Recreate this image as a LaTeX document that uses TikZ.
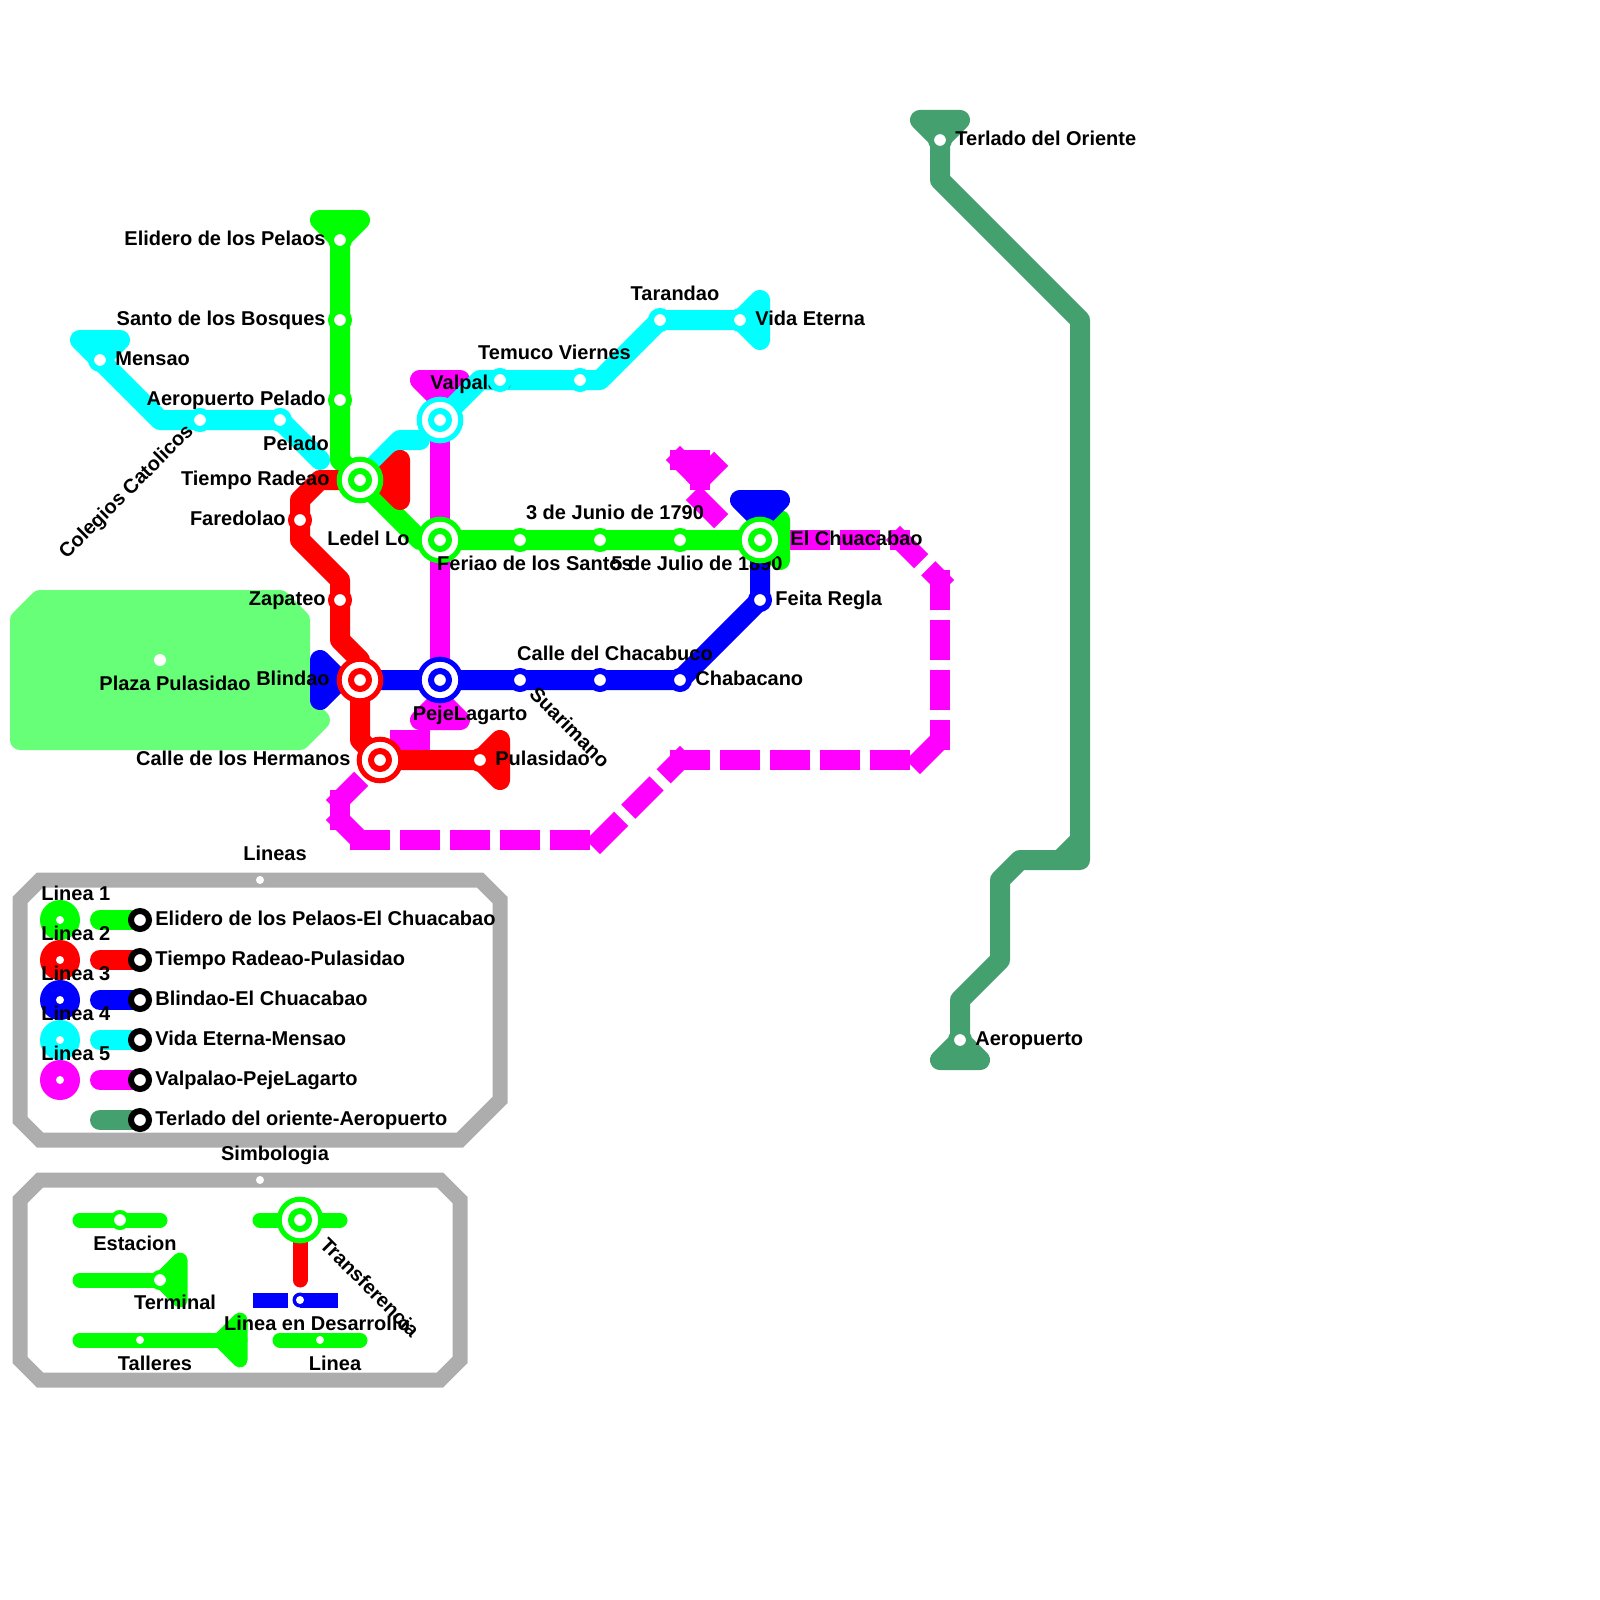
\documentclass[tikz,border=0pt]{standalone}
\usepackage{fontspec}
\setmainfont{Liberation Sans}
\usetikzlibrary{positioning,calc}
\definecolor{LineGreen}{RGB}{0,255,0}
\definecolor{LineRed}{RGB}{255,0,0}
\definecolor{LineBlue}{RGB}{0,0,255}
\definecolor{LineCyan}{RGB}{0,255,255}
\definecolor{LineMagenta}{RGB}{255,0,255}
\definecolor{LineTerlado}{RGB}{69,160,112}
\definecolor{PlazaGreen}{RGB}{102,255,119}
\definecolor{FrameGray}{RGB}{173,173,173}

\begin{document}
\begin{tikzpicture}[
      x=0.5pt, y=-0.5pt,
      lbl/.style={font=\bfseries, inner sep=0pt, text height=7.2pt, text depth=0pt, yshift=1pt},
      metro/.style={draw=#1, line width=10pt, line cap=round, line join=round},
      term/.style={metro=#1, fill=#1},
      small/.style={draw=#1, line width=7.5pt, line cap=round, line join=round},
      smallterm/.style={small=#1, fill=#1},
      dev/.style={draw=LineMagenta, line width=10pt, dash pattern=on 20pt off 5pt},
      frame/.style={draw=FrameGray, line width=7.5pt},
      stn/.style={circle, draw=#1, fill=white, line width=3pt, minimum size=9pt, inner sep=0pt, outer sep=0pt},
      stnleg/.style={circle, draw=#1, fill=white, line width=2pt, minimum size=8pt, inner sep=0pt, outer sep=0pt},
      xout/.style={circle, draw=#1, fill=white, line width=2.5pt, minimum size=20.8pt, inner sep=0pt, outer sep=0pt},
      dotw/.style={circle, fill=white, minimum size=4pt, inner sep=0pt, outer sep=0pt}
  ]
    \useasboundingbox (0,0) rectangle (1600,1600);

    % points of the lines
    \coordinate (eli) at (340,240);
    \coordinate (santo) at (340,320);
    \coordinate (aero) at (340,400);
    \coordinate (tiempo) at (360,480);
    \coordinate (ledel) at (440,540);
    \coordinate (feriao) at (520,540);
    \coordinate (junio) at (600,540);
    \coordinate (julio) at (680,540);
    \coordinate (chua) at (760,540);
    \coordinate (fare) at (300,520);
    \coordinate (zapa) at (340,600);
    \coordinate (blin) at (360,680);
    \coordinate (herm) at (380,760);
    \coordinate (pula) at (480,760);
    \coordinate (peje) at (440,680);
    \coordinate (chaca) at (520,680);
    \coordinate (suar) at (600,680);
    \coordinate (chab) at (680,680);
    \coordinate (feita) at (760,600);
    \coordinate (mens) at (100,360);
    \coordinate (cole) at (200,420);
    \coordinate (pela) at (280,420);
    \coordinate (pelb) at (320,460);
    \coordinate (valp) at (440,420);
    \coordinate (temb) at (500,380);
    \coordinate (temu) at (580,380);
    \coordinate (tara) at (660,320);
    \coordinate (vida) at (740,320);
    \coordinate (terl) at (940,140);
    \coordinate (apto) at (960,1040);
    \coordinate (plaza) at (160,660);
    % points of the line in development
    \coordinate (d1) at (340,800);
    \coordinate (d2) at (340,820);
    \coordinate (d3) at (360,840);
    \coordinate (d3a) at (580,840);
    \coordinate (d4) at (600,840);
    \coordinate (d5) at (680,760);
    \coordinate (d5a) at (900,760);
    \coordinate (d6) at (920,760);
    \coordinate (d7) at (940,740);
    \coordinate (d8) at (940,580);
    \coordinate (d9) at (900,540);
    \coordinate (d10) at (750,540);
    \coordinate (t1) at (680,460);
    \coordinate (t2) at (700,460);
    \coordinate (t3) at (700,480);
    \coordinate (t4) at (720,460);
    \coordinate (t5) at (700,500);
    \coordinate (t6) at (720,520);
    \coordinate (b1) at (400,740);
    \coordinate (b2) at (420,740);
    \coordinate (b3) at (420,760);

    % plaza
    \draw[term=PlazaGreen] (40,600) -- (280,600) -- (300,620) -- (300,700) -- (320,720) -- (300,740) -- (20,740) -- (20,620) -- cycle;

    % frames
    \draw[frame] (40,880) -- (480,880) -- (500,900) -- (500,1100) -- (460,1140) -- (40,1140) -- (20,1120) -- (20,900) -- cycle;
    \draw[frame] (40,1180) -- (440,1180) -- (460,1200) -- (460,1360) -- (440,1380) -- (40,1380) -- (20,1360) -- (20,1200) -- cycle;

    % line 5 and its development part
    \foreach \a/\b in {d1/herm, d1/d2, d2/d3, d3/d3a, d4/d5, d5/d5a, d6/d7, d8/d7, d9/d8, d10/d9, t1/t2, t2/t3, t1/t3, t3/t4, t5/t6, b1/b2, b2/b3}
      \draw[dev] ($(\a)!-5pt!(\b)$) -- ($(\b)!-5pt!(\a)$);
    \draw[term=LineMagenta] (420,380) -- (460,380) -- (440,400) -- cycle;
    \draw[term=LineMagenta] (420,720) -- (460,720) -- (440,700) -- cycle;
    \draw[metro=LineMagenta] (valp) -- (peje);

    % line 4
    \draw[term=LineCyan] (80,340) -- (120,340) -- (100,360) -- cycle;
    \draw[term=LineCyan] (760,300) -- (760,340) -- (740,320) -- cycle;
    \draw[metro=LineCyan] (mens) -- (160,420) -- (pela) -- (pelb);
    \draw[metro=LineCyan] (tiempo) -- (400,440) -- (420,440);
    \draw[metro=LineCyan] (valp) -- (480,380) -- (600,380) -- (tara) -- (vida);

    % line 1
    \draw[term=LineGreen] (320,220) -- (360,220) -- (340,240) -- cycle;
    \draw[term=LineGreen] (780,520) -- (780,560) -- (760,540) -- cycle;
    \draw[metro=LineGreen] (eli) -- (340,460) -- (tiempo) -- (420,540) -- (chua);

    % line 3
    \draw[term=LineBlue] (320,660) -- (320,700) -- (340,680) -- cycle;
    \draw[term=LineBlue] (740,500) -- (780,500) -- (760,520) -- cycle;
    \draw[metro=LineBlue] (blin) -- (chab) -- (feita) -- (chua);

    % line 2
    \draw[term=LineRed] (400,460) -- (400,500) -- (380,480) -- cycle;
    \draw[term=LineRed] (500,740) -- (500,780) -- (480,760) -- cycle;
    \draw[metro=LineRed] (tiempo) -- (320,480) -- (300,500) -- (300,540) -- (340,580) -- (340,640) -- (360,660) -- (360,740) -- (herm) -- (pula);

    % Terlado line
    \draw[term=LineTerlado] (920,120) -- (960,120) -- (940,140) -- cycle;
    \draw[term=LineTerlado] (940,1060) -- (980,1060) -- (960,1040) -- cycle;
    \draw[metro=LineTerlado] (terl) -- (940,180) -- (1080,320) -- (1080,860) -- (1020,860) -- (1000,880) -- (1000,960) -- (960,1000) -- (apto);
    \draw[metro=LineTerlado] (1080,840) -- (1060,860);

    % labels of the map
    \node[lbl, left=7pt of eli] (eli-l) {Elidero de los Pelaos};
    \node[lbl, left=7pt of santo] (santo-l) {Santo de los Bosques};
    \node[lbl, left=7pt of aero] (aero-l) {Aeropuerto Pelado};
    \node[lbl, left=15pt of tiempo] (tiempo-l) {Tiempo Radeao};
    \node[lbl, left=15pt of ledel] (ledel-l) {Ledel Lo};
    \node[lbl, left=7pt of fare] (fare-l) {Faredolao};
    \node[lbl, left=7pt of zapa] (zapa-l) {Zapateo};
    \node[lbl, left=15pt of blin] (blin-l) {Blindao};
    \node[lbl, left=14.5pt of herm] (herm-l) {Calle de los Hermanos};
    \node[lbl, right=7.5pt of pula] (pula-l) {Pulasidao};
    \node[lbl, right=7.5pt of mens] (mens-l) {Mensao};
    \node[lbl, right=7.5pt of vida] (vida-l) {Vida Eterna};
    \node[lbl, right=7.5pt of chab] (chab-l) {Chabacano};
    \node[lbl, right=7.5pt of feita] (feita-l) {Feita Regla};
    \node[lbl, right=15pt of chua] (chua-l) {El Chuacabao};
    \node[lbl, right=7.5pt of terl] (terl-l) {Terlado del Oriente};
    \node[lbl, right=7.5pt of apto] (apto-l) {Aeropuerto};
    \node[lbl] (pelado-l) at (296,445) {Pelado};
    \node[lbl, rotate=45] (cole-l) at (125.5,493) {Colegios Catolicos};
    \node[lbl] (tara-l) at (675,295) {Tarandao};
    \node[lbl] (temu-l) at (554.5,354) {Temuco Viernes};
    \node[lbl, anchor=west] (valp-l) at (430,384) {Valpalao};
    \node[lbl] (junio-l) at (615,514) {3 de Junio de 1790};
    \node[lbl] (julio-l) at (697,565) {5 de Julio de 1890};
    \node[lbl] (chaca-l) at (615,655) {Calle del Chacabuco};
    \node[lbl] (peje-l) at (470,715) {PejeLagarto};
    \node[lbl, rotate=-45] (suar-l) at (570,729) {Suarimano};
    \node[lbl] (plaza-l) at (175,685) {Plaza Pulasidao};

    % stations
    \foreach \s/\c in {eli/LineGreen, santo/LineGreen, aero/LineGreen, feriao/LineGreen, junio/LineGreen, julio/LineGreen, fare/LineRed, zapa/LineRed, chaca/LineBlue, suar/LineBlue, chab/LineBlue, feita/LineBlue, pula/LineRed, mens/LineCyan, cole/LineCyan, pela/LineCyan, temb/LineCyan, temu/LineCyan, tara/LineCyan, vida/LineCyan, terl/LineTerlado, apto/LineTerlado}
      \node[stn=\c] (\s-st) at (\s) {};
    \foreach \s/\c in {tiempo/LineGreen, ledel/LineGreen, chua/LineGreen, valp/LineCyan, blin/LineRed, herm/LineRed, peje/LineBlue} {
      \node[xout=\c] (\s-xo) at (\s) {};
      \node[stn=\c] (\s-st) at (\s) {};
    }
    \node[dotw, minimum size=6pt] (plaza-st) at (plaza) {};
    \node[lbl] (feriao-l) at (535,565) {Feriao de los Santos};

    % legend of the lines
    \node[dotw] (lineas) at (260,880) {};
    \node[lbl] (lineas-l) at (275,855) {Lineas};
    \foreach \yy/\i/\c/\t in {920/1/LineGreen/Elidero de los Pelaos-El Chuacabao, 960/2/LineRed/Tiempo Radeao-Pulasidao, 1000/3/LineBlue/Blindao-El Chuacabao, 1040/4/LineCyan/Vida Eterna-Mensao, 1080/5/LineMagenta/Valpalao-PejeLagarto, 1120/6/LineTerlado/Terlado del oriente-Aeropuerto} {
      \coordinate (bar\i a) at (100,\yy);
      \coordinate (bar\i b) at (140,\yy);
      \draw[metro=\c] (bar\i a) -- (bar\i b);
      \node[stn=black] (bar\i st) at (bar\i b) {};
      \node[lbl, right=7.5pt of bar\i b] (bar\i l) {\t};
    }
    \foreach \yy/\i/\c in {920/1/LineGreen, 960/2/LineRed, 1000/3/LineBlue, 1040/4/LineCyan, 1080/5/LineMagenta} {
      \node[circle, fill=\c, minimum size=20pt, inner sep=0pt, outer sep=0pt] (leg\i) at (60,\yy) {};
      \node[dotw] (leg\i d) at (leg\i) {};
    }
    \foreach \yy/\i in {895/1, 935/2, 975/3, 1015/4, 1055/5}
      \node[lbl, anchor=west] (leg\i l) at (41,\yy) {Linea \i};

    % legend of the symbols
    \node[dotw] (simbo) at (260,1180) {};
    \node[lbl] (simbo-l) at (275,1155) {Simbologia};
    \coordinate (esta) at (80,1220);
    \coordinate (estb) at (160,1220);
    \coordinate (estc) at (120,1220);
    \draw[small=LineGreen] (esta) -- (estb);
    \node[stnleg=LineGreen] (estc-st) at (estc) {};
    \node[lbl] (esta-l) at (135,1245) {Estacion};
    \coordinate (tera) at (80,1280);
    \coordinate (terb) at (160,1280);
    \draw[smallterm=LineGreen] (180,1260) -- (180,1300) -- (160,1280) -- cycle;
    \draw[small=LineGreen] (tera) -- (terb);
    \node[stnleg=LineGreen] (terb-st) at (terb) {};
    \node[lbl] (tera-l) at (175,1304) {Terminal};
    \coordinate (tala) at (80,1340);
    \coordinate (talb) at (240,1340);
    \coordinate (talc) at (140,1340);
    \draw[smallterm=LineGreen] (240,1320) -- (240,1360) -- (220,1340) -- cycle;
    \draw[small=LineGreen] (tala) -- (talb);
    \node[dotw] (talc-st) at (talc) {};
    \node[lbl] (tala-l) at (155,1365) {Talleres};
    \coordinate (lina) at (280,1340);
    \coordinate (linb) at (360,1340);
    \coordinate (linc) at (320,1340);
    \draw[small=LineGreen] (lina) -- (linb);
    \node[dotw] (linc-st) at (linc) {};
    \node[lbl] (lina-l) at (335,1365) {Linea};
    \coordinate (tfa) at (260,1220);
    \coordinate (tfb) at (340,1220);
    \coordinate (tfc) at (300,1220);
    \coordinate (tfd) at (300,1280);
    \draw[small=LineGreen] (tfa) -- (tfb);
    \draw[small=LineRed] (tfc) -- (tfd);
    \node[xout=LineGreen] (tfc-xo) at (tfc) {};
    \node[stn=LineGreen] (tfc-st) at (tfc) {};
    \node[lbl, rotate=-45] (tfc-l) at (370,1289) {Transferencia};
    \coordinate (dva) at (252.5,1300);
    \coordinate (dvb) at (287.5,1300);
    \coordinate (dvc) at (300,1300);
    \coordinate (dvd) at (337.5,1300);
    \draw[draw=LineBlue, line width=7.5pt] (dva) -- (dvb);
    \draw[draw=LineBlue, line width=7.5pt] (dvc) -- (dvd);
    \node[circle, fill=LineBlue, minimum size=7.5pt, inner sep=0pt, outer sep=0pt] (dvc-ri) at (dvc) {};
    \node[dotw] (dvc-st) at (dvc) {};
    \node[lbl] (dvc-l) at (317,1325) {Linea en Desarrollo};
  \end{tikzpicture}
\end{document}
